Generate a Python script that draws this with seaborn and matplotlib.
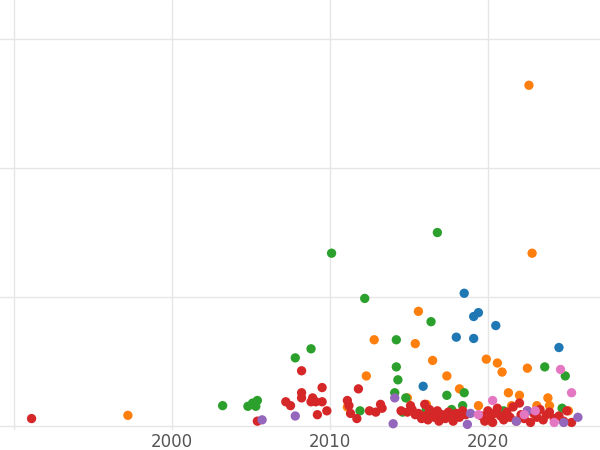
import matplotlib
matplotlib.use("Agg")
import matplotlib.pyplot as plt
import seaborn as sns
import pandas as pd

red_x = [1991.1,2005.4,2007.2,2007.5,2008.2,2008.2,2008.2,2008.9,2008.8,2009.1,2009.2,2009.5,2009.5,2009.8,
         2011.1,2011.2,2011.3,2011.7,2011.8,2012.5,2012.9,2013.2,2013.3,
         2014.5,2014.9,2015.2,2015.4,2015.6,2015.8,2016.0,2016.2,2016.3,2016.5,2016.6,2016.8,2016.9,2017.1,2017.3,
         2017.5,2017.6,2017.8,2018.0,2018.2,2018.4,2018.6,2016.0,2015.1,
         2019.6,2019.8,2020.0,2020.1,2020.3,2020.4,2020.6,2020.8,2021.0,2021.2,2021.4,2021.6,2021.8,2022.0,2022.1,
         2022.3,2022.5,2022.7,2022.9,2023.1,2023.3,2023.5,2023.7,2023.9,2024.2,2024.5,2024.8,2025.0,2025.3]
red_y = [6,4,19,16,43,26,22,22,19,19,9,30,19,12,
         20,16,10,6,29,12,11,17,14,
         12,11,13,9,10,6,8,5,13,10,7,12,4,9,6,
         11,8,4,10,7,12,9,17,16,
         8,4,12,6,3,10,14,8,5,11,7,15,4,18,9,
         6,12,3,10,7,13,5,9,11,6,8,4,12,3]
orange_x = [1997.2,2011.1,2012.3,2012.8,2014.9,2015.6,2015.4,2016.5,2017.4,2018.2,2019.4,2022.6,2022.8,2019.9,
            2020.6,2020.9,2021.3,2021.5,2022.0,2022.5,2023.1,2023.8,2023.9,2025.1,2016.1,2020.2]
orange_y = [8.5,15,39,67,22,89,64,51,39,29,16,264,134,52,49,42,26,16,24,45,16,22,16,12,17,4]
green_x = [2003.2,2004.8,2005.1,2005.3,2005.4,2007.8,2008.8,2010.1,2011.9,2012.2,2014.1,2014.2,2014.2,2014.3,
           2014.8,2016.8,2016.4,2017.4,2017.7,2018.5,2018.4,2023.6,2024.9,2014.6,2016.1,2021.0,2024.7]
green_y = [16,15.5,18,15.5,20,53,60,134,12,99,26,46,67,36,22,150,81,24,13,26,16,46,39,11,13,12,14]
blue_x = [2018.5,2019.1,2019.4,2020.5,2018.0,2019.1,2015.9,2024.5]
blue_y = [103,85,88,78,69,68,31,61]
pink_x = [2024.6,2025.3,2020.3,2019.4,2022.3,2024.2,2023.0]
pink_y = [44,26,20,9,9,3,12]
purple_x = [2005.7,2007.8,2014.0,2014.1,2018.7,2021.8,2025.7,2022.5,2024.8,2018.9]
purple_y = [5,8,2,22,1.5,4,7,12,3,10]

groups = [("blue", blue_x, blue_y), ("orange", orange_x, orange_y), ("green", green_x, green_y),
          ("red", red_x, red_y), ("purple", purple_x, purple_y), ("pink", pink_x, pink_y)]
rows = []
for name, xs, ys in groups:
    rows += [dict(year=x, value=y, grp=name) for x, y in zip(xs, ys)]
df = pd.DataFrame(rows)
palette = {"blue": "#1f77b4", "orange": "#ff7f0e", "green": "#2ca02c",
           "red": "#d62728", "purple": "#9467bd", "pink": "#e377c2"}

sns.set_style("whitegrid")
fig = plt.figure(figsize=(6, 4.5), dpi=100)
ax = fig.add_axes([0, 0.044, 1, 0.956])
sns.scatterplot(data=df, x="year", y="value", hue="grp", palette=palette, s=45,
                edgecolor="none", legend=False, ax=ax)
ax.set_xlim(1989.1, 2027.1)
ax.set_ylim(-3, 330)
ax.set_xticks([1990, 2000, 2010, 2020])
ax.set_xticklabels(["", "2000", "2010", "2020"])
ax.set_yticks([0, 100, 200, 300])
ax.set_yticklabels([])
ax.tick_params(axis="x", labelsize=12, labelcolor="#555555", pad=2, length=0)
ax.tick_params(axis="y", length=0)
ax.grid(color="#e6e6e6", linewidth=1)
for s in ax.spines.values():
    s.set_visible(False)
ax.set_xlabel("")
ax.set_ylabel("")
fig.savefig("out.png", dpi=100)
